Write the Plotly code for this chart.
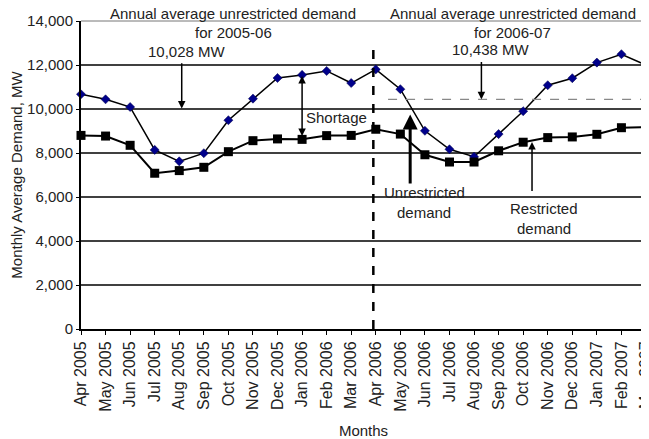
import plotly.graph_objects as go

months = ['Apr 2005', 'May 2005', 'Jun 2005', 'Jul 2005', 'Aug 2005', 'Sep 2005',
          'Oct 2005', 'Nov 2005', 'Dec 2005', 'Jan 2006', 'Feb 2006', 'Mar 2006',
          'Apr 2006', 'May 2006', 'Jun 2006', 'Jul 2006', 'Aug 2006', 'Sep 2006',
          'Oct 2006', 'Nov 2006', 'Dec 2006', 'Jan 2007', 'Feb 2007', 'Mar 2007']
unrestricted = [10670, 10440, 10090, 8140, 7620, 7990, 9490, 10470, 11410, 11550, 11730, 11180,
                11800, 10900, 9010, 8170, 7830, 8860, 9900, 11080, 11400, 12110, 12490, 12000]
restricted = [8800, 8770, 8350, 7080, 7200, 7350, 8060, 8560, 8640, 8620, 8790, 8800,
              9080, 8860, 7920, 7590, 7590, 8100, 8490, 8700, 8730, 8850, 9150, 9180]
yticks = [0, 2000, 4000, 6000, 8000, 10000, 12000, 14000]
avg_2005 = 10028
avg_2006 = 10438

FONT = 'Liberation Sans, Arial, sans-serif'
TXT = '#222'

fig = go.Figure()
fig.add_trace(go.Scatter(
    x=list(range(len(months))), y=unrestricted, mode='lines+markers', name='Unrestricted',
    line=dict(color='black', width=1.5),
    marker=dict(symbol='diamond', size=7, color='#00008b', line=dict(color='#00004a', width=0.5)),
    cliponaxis=False,
))
fig.add_trace(go.Scatter(
    x=list(range(len(months))), y=restricted, mode='lines+markers', name='Restricted',
    line=dict(color='black', width=2),
    marker=dict(symbol='square', size=9, color='black'),
    cliponaxis=False,
))

shapes = []
# horizontal grid lines
for v in yticks[1:-1]:
    shapes.append(dict(type='line', xref='paper', x0=0, x1=1, yref='y', y0=v, y1=v,
                       line=dict(color='black', width=1.5), layer='below'))
# plot border (top/right)
shapes.append(dict(type='line', xref='paper', x0=0, x1=1, yref='paper', y0=1, y1=1,
                   line=dict(color='#777', width=1)))
shapes.append(dict(type='line', xref='paper', x0=1, x1=1, yref='paper', y0=0, y1=1,
                   line=dict(color='#777', width=1)))
# 2006-07 average dashed line
shapes.append(dict(type='line', x0=12.5, x1=23, y0=avg_2006, y1=avg_2006,
                   line=dict(color='#888', width=1.2, dash='dash')))
# year separator
shapes.append(dict(type='line', x0=11.9, x1=11.9, y0=0, y1=12700,
                   line=dict(color='black', width=2.5, dash='dash')))

ann = []


def text(x, y, s, yref='y'):
    ann.append(dict(x=x, y=y, yref=yref, text=s, showarrow=False, xanchor='center',
                    yanchor='middle', font=dict(size=15, color=TXT, family=FONT)))


def arrow(x, y, ay, width=1.5, side='end', head=2):
    ann.append(dict(x=x, y=y, ax=x, ay=ay, axref='x', ayref='y', text='', showarrow=True,
                    arrowhead=head, startarrowhead=head, arrowsize=1, arrowwidth=width,
                    arrowside=side, arrowcolor='black'))


text(6.19, 1.024, 'Annual average unrestricted demand', yref='paper')
text(6.19, 13455, 'for 2005-06')
text(4.32, 12636, '10,028 MW')
text(17.59, 1.024, 'Annual average unrestricted demand', yref='paper')
text(17.57, 13455, 'for 2006-07')
text(16.69, 12727, '10,438 MW')
text(10.42, 9636, 'Shortage')
text(13.97, 6227, 'Unrestricted')
text(13.97, 5318, 'demand')
text(18.85, 5455, 'Restricted')
text(18.85, 4591, 'demand')

arrow(4.1, avg_2005, 12150)
arrow(16.3, avg_2006, 12200)
arrow(9.0, 11500, 8700, side='end+start')
arrow(13.4, 9750, 6550, width=3)
arrow(18.36, 8500, 6200, width=1.5)

# the page body adds an 8px offset, so the figure is sized to fit the 649x439 window
fig.update_layout(
    width=641, height=431,
    margin=dict(l=73, r=3, t=13, b=110),
    paper_bgcolor='white', plot_bgcolor='white',
    showlegend=False,
    font=dict(family=FONT, size=15, color=TXT),
    shapes=shapes,
    annotations=ann,
    xaxis=dict(
        range=[0, 23], tickvals=list(range(len(months))), ticktext=months,
        tickangle=-90, ticks='outside', ticklen=4, tickcolor='black',
        showgrid=False, zeroline=False, showline=True, linecolor='black', linewidth=2,
        automargin=False, ticklabeloverflow='allow',
        title=dict(text='Months', font=dict(size=15), standoff=16),
        tickfont=dict(size=16),
    ),
    yaxis=dict(
        range=[0, 14000], tickvals=yticks, tickformat=',',
        ticks='outside', ticklen=3, tickcolor='black',
        showgrid=False, zeroline=False, showline=True, linecolor='black', linewidth=2,
        automargin=False,
        title=dict(text='Monthly Average Demand, MW', font=dict(size=15), standoff=2),
        tickfont=dict(size=15),
    ),
)

fig.write_html('out.html')
